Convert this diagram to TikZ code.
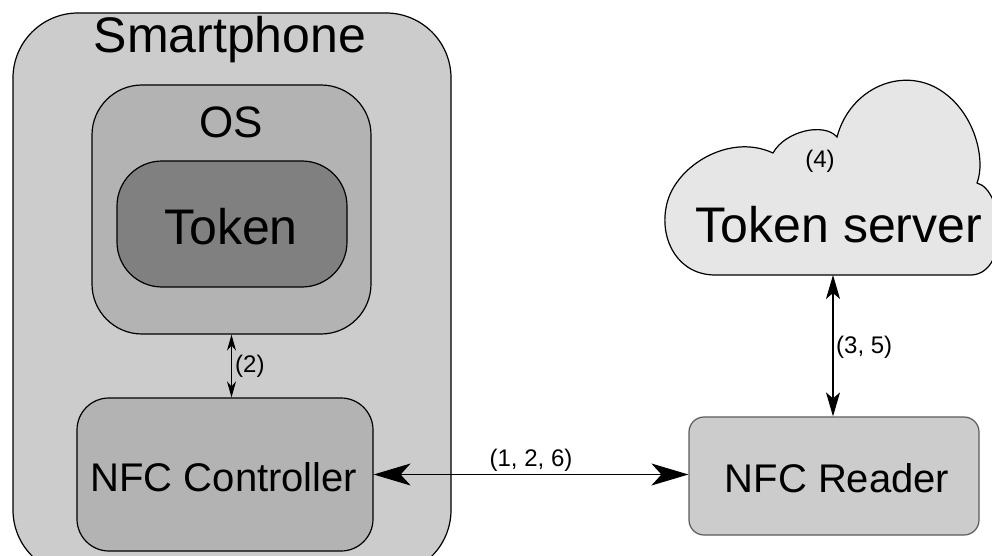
\documentclass[tikz,border=0pt]{standalone}
\usepackage{fontspec}
\setmainfont{Liberation Sans}
\usepackage{tikz}
\usetikzlibrary{arrows.meta,positioning}
\definecolor{phonegray}{RGB}{204,204,204}
\definecolor{osgray}{RGB}{179,179,179}
\definecolor{tokengray}{RGB}{128,128,128}
\definecolor{cloudgray}{RGB}{230,230,230}
\definecolor{readerline}{RGB}{90,90,90}
\tikzstyle{biarrow} = [line width=1.3pt,{Stealth[length=37pt,width=22pt,inset=10pt]}-{Stealth[length=37pt,width=22pt,inset=10pt]}]
\tikzstyle{smallarrow} = [line width=1pt,{Stealth[length=16pt,width=9pt,inset=5pt]}-{Stealth[length=16pt,width=9pt,inset=5pt]}]
\tikzstyle{midarrow} = [line width=1.2pt,{Stealth[length=24pt,width=14pt,inset=6pt]}-{Stealth[length=24pt,width=14pt,inset=6pt]}]
\tikzset{
  box/.style={draw, line width=1.2pt, inner sep=0pt},
  big/.style={font=\fontsize{#1}{#1}\selectfont},
  tag/.style={font=\fontsize{24}{24}\selectfont, inner sep=0pt}
}

\begin{document}
\begin{tikzpicture}[x=1pt,y=-1pt]
\useasboundingbox (0,0) rectangle (992,556);

% Smartphone with its parts
\node[box, fill=phonegray, rounded corners=65pt, minimum width=438pt, minimum height=562pt] (phone) at (232,294) {};
\node[big=50, anchor=base] (phonetext) at (230,53) {Smartphone};
\node[box, fill=osgray, rounded corners=50pt, minimum width=279pt, minimum height=249pt] (os) at (231.5,209.5) {};
\node[big=44, anchor=base] (ostext) at (231,138) {OS};
\node[box, fill=tokengray, rounded corners=45pt, minimum width=230pt, minimum height=126pt] (token) at (232,224) {};
\node[big=50, anchor=base] (tokentext) at (231,244) {Token};
\node[box, fill=osgray, rounded corners=32pt, minimum width=296pt, minimum height=153pt] (nfcctl) at (225,474.5) {};
\node[big=40, anchor=base] (nfcctltext) at (224,491) {NFC Controller};

% Reader
\node[box, draw=readerline, fill=phonegray, rounded corners=15pt, minimum width=290pt, minimum height=118pt] (reader) at (834,476) {};
\node[big=40, anchor=base] (readertext) at (837,492) {NFC Reader};

% Cloud
\draw[line width=1.2pt, fill=cloudgray] (717,275) .. controls (678,276) and (660,240) .. (666,208)
  .. controls (672,168) and (728,132) .. (773,153)
  .. controls (785,131) and (824,122) .. (837,137)
  .. controls (850,88) and (902,66) .. (940,90)
  .. controls (975,112) and (986,160) .. (977,183)
  .. controls (1004,190) and (1010,272) .. (972,275) -- cycle;
\coordinate (cloudbot) at (833,275);
\node[big=50, anchor=base] (server) at (839,242) {Token server};
\node[tag] (step4) at (820,161) {(4)};

% Connectors
\draw[smallarrow] (os.south) -- (os.south |- nfcctl.north);
\node[tag, anchor=west] (step2) at (235,366) {(2)};
\draw[biarrow] (nfcctl.east) -- (nfcctl.east -| reader.west);
\node[tag] (step126) at (531,460) {(1, 2, 6)};
\draw[midarrow] (cloudbot) -- (cloudbot |- reader.north);
\node[tag, anchor=west] (step35) at (836,347) {(3, 5)};
\end{tikzpicture}
\end{document}
